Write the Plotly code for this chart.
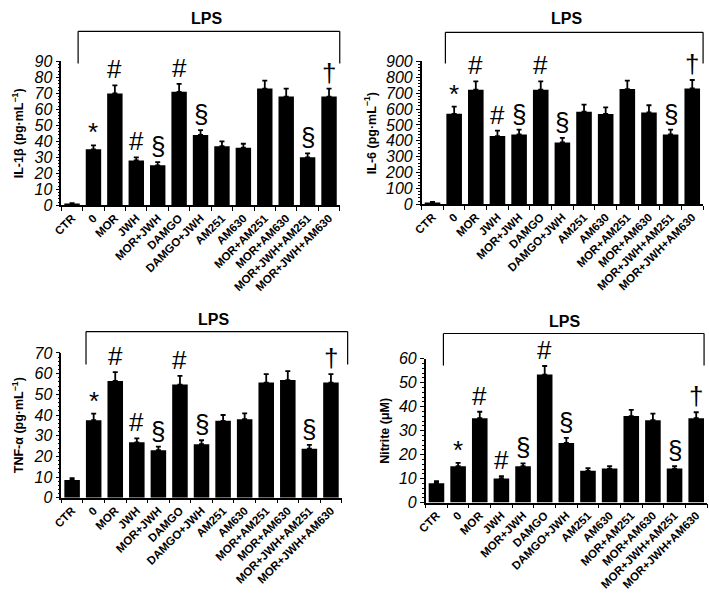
import plotly.graph_objects as go

W, H = 709, 601

categories = ["CTR", "0", "MOR", "JWH", "MOR+JWH", "DAMGO", "DAMGO+JWH", "AM251",
              "AM630", "MOR+AM251", "MOR+AM630", "MOR+JWH+AM251", "MOR+JWH+AM630"]

il1b_mean = [1, 35, 70, 28, 25, 71, 44, 37, 36, 73, 68, 30, 68]
il1b_err = [0.3, 2.5, 5, 2, 2, 5, 3, 3, 2.5, 5, 5, 2.5, 5]

il6_mean = [10, 570, 722, 430, 440, 722, 390, 583, 569, 726, 579, 440, 730]
il6_err = [5, 45, 53, 34, 30, 53, 28, 45, 42, 53, 45, 30, 53]

tnf_mean = [8.6, 37.5, 56.5, 26.8, 23, 54.7, 25.9, 37.2, 38, 55.7, 56.9, 23.7, 55.7]
tnf_err = [0.9, 3.2, 4.2, 1.9, 1.7, 4.2, 1.9, 2.8, 2.8, 4.1, 4.3, 1.9, 4.1]

nitrite_mean = [8.1, 15.2, 35.2, 10.1, 15.2, 53.4, 24.9, 13.3, 14.2, 36.1, 34.4, 14.2, 35.2]
nitrite_err = [0.8, 1.4, 2.7, 0.9, 1.2, 3.6, 2.1, 1.1, 1.0, 2.6, 2.7, 1.0, 2.5]

symbols = ["", "*", "#", "#", "§", "#", "§", "", "", "", "", "§", "†"]

y_titles = ["IL-1β (pg·mL<sup>−1</sup>)", "IL-6 (pg·mL<sup>−1</sup>)",
            "TNF-α (pg·mL<sup>−1</sup>)", "Nitrite (μM)"]
y_max = [90, 900, 70, 60]
y_dtick = [10, 100, 10, 10]
y_minor = [2, 20, 2, 2]
group_label = "LPS"

means = [il1b_mean, il6_mean, tnf_mean, nitrite_mean]
errs = [il1b_err, il6_err, tnf_err, nitrite_err]

# panel geometry in pixels: (x_left, x_right, y_top, y_bottom)
panels = [(53, 335, 55, 203), (418, 703, 55, 202), (53, 337, 355, 504), (422, 707, 361, 509)]
# bracket: (x_left, x_right, y_top, y_bottom), LPS label centre (x, y)
brackets = [(70, 335, 24, 57), (442, 703, 25, 57), (78, 343, 333, 367), (440, 704, 335, 368)]
lps_pos = [(200, 11), (565, 11), (207, 321), (563, 323)]
ytitle_x = [9, 366, 9, 381]

FONT = "Liberation Sans, Arial, sans-serif"


def px(x):
    return x / W


def py(y):
    return 1 - y / H


fig = go.Figure()
layout = dict(width=W, height=H, margin=dict(l=0, r=0, t=0, b=0),
              plot_bgcolor="white", paper_bgcolor="white", showlegend=False,
              font=dict(family=FONT, color="black"), bargap=0.28)
annotations = []
shapes = []

for i in range(4):
    k = "" if i == 0 else str(i + 1)
    xl, xr, yt, yb = panels[i]
    fig.add_trace(go.Bar(
        x=categories, y=means[i], xaxis="x" + k, yaxis="y" + k,
        marker=dict(color="black", line=dict(width=0)),
        error_y=dict(type="data", array=errs[i], arrayminus=[0] * len(errs[i]),
                     symmetric=False, color="black", thickness=1.8, width=2.5),
    ))
    layout["xaxis" + k] = dict(
        domain=[px(xl), px(xr)], anchor="y" + k, type="category",
        range=[-0.5, len(categories) - 0.5],
        showline=True, linecolor="black", linewidth=1.5,
        ticks="outside", tickson="boundaries", ticklen=4, tickwidth=1, tickcolor="black",
        tickangle=-45, tickfont=dict(family=FONT, size=11.5, weight="bold"),
        showgrid=False, zeroline=False, fixedrange=True,
    )
    layout["yaxis" + k] = dict(
        domain=[py(yb), py(yt)], anchor="x" + k, range=[0, y_max[i]],
        dtick=y_dtick[i], tick0=0,
        showline=True, linecolor="black", linewidth=1.5,
        ticks="outside", ticklen=4, tickwidth=1, tickcolor="black",
        minor=dict(dtick=y_minor[i], ticks="outside", ticklen=2, tickcolor="black", tickwidth=1),
        tickfont=dict(family=FONT, size=16, style="italic"),
        showgrid=False, zeroline=False, fixedrange=True,
    )
    # y-axis title
    annotations.append(dict(
        text=y_titles[i], x=px(ytitle_x[i]), y=py((yt + yb) / 2), xref="paper", yref="paper",
        textangle=-90, showarrow=False, xanchor="center", yanchor="middle",
        font=dict(family=FONT, size=12.5, weight="bold"),
    ))
    # significance symbols (x as category index)
    for idx, (m, e, s) in enumerate(zip(means[i], errs[i], symbols)):
        if s:
            annotations.append(dict(
                text=s, x=idx, y=m + e, xref="x" + k, yref="y" + k, showarrow=False,
                xanchor="center", yanchor="bottom", yshift=-4 if s == "*" else -1,
                font=dict(family=FONT, size=26),
            ))
    # LPS label and bracket
    lx, ly = lps_pos[i]
    annotations.append(dict(
        text=group_label, x=px(lx), y=py(ly), xref="paper", yref="paper", showarrow=False,
        xanchor="center", yanchor="middle", font=dict(family=FONT, size=16, weight="bold"),
    ))
    bl, br, bt, bb = brackets[i]
    line = dict(color="black", width=1.2)
    shapes.append(dict(type="line", xref="paper", yref="paper",
                       x0=px(bl), x1=px(br), y0=py(bt), y1=py(bt), line=line))
    shapes.append(dict(type="line", xref="paper", yref="paper",
                       x0=px(bl), x1=px(bl), y0=py(bt), y1=py(bb), line=line))
    shapes.append(dict(type="line", xref="paper", yref="paper",
                       x0=px(br), x1=px(br), y0=py(bt), y1=py(bb), line=line))

layout["annotations"] = annotations
layout["shapes"] = shapes
fig.update_layout(**layout)
fig.write_html("out.html", config={"displayModeBar": False},
               post_script="document.body.style.margin='0';document.body.style.overflow='hidden';")
